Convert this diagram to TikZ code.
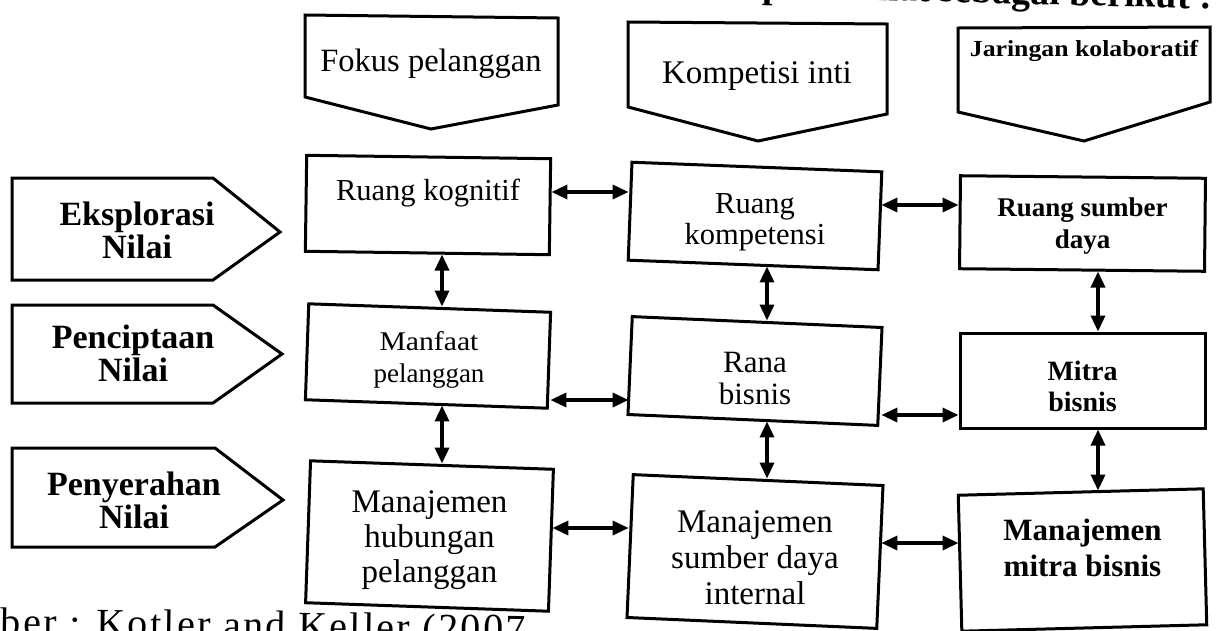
\documentclass[tikz,border=0pt]{standalone}
\usepackage{fontspec}
\usepackage{graphicx}
\setmainfont{Liberation Serif}
\usetikzlibrary{arrows.meta}
\newcommand{\myfs}[2]{\fontsize{#1}{#2}\selectfont}
\newcommand{\hstr}[2]{\scalebox{#1}[1]{#2}}
\tikzset{
  box/.style={draw, line width=3pt, inner sep=0pt},
  shp/.style={draw, line width=3pt, line join=miter},
  lbl/.style={align=center, inner sep=0pt},
  side/.style={lbl, font=\bfseries\myfs{34}{33}},
  dbl/.style={{Triangle[length=16pt,width=14pt]}-{Triangle[length=16pt,width=14pt]}, line width=3.4pt},
}
\begin{document}
\begin{tikzpicture}[x=1pt,y=-1pt]
\useasboundingbox (0,0) rectangle (1217,630);
\clip (0,0) rectangle (1217,630);
% cut page texts
\node[anchor=base east, inner sep=0pt, rotate=-1.5, font=\bfseries\myfs{38}{40}] (toptext) at (1212,9) {dapat dilihat sebagai berikut :};
\node[anchor=base west, inner sep=0pt, rotate=-0.8, font=\myfs{40}{42}\addfontfeature{LetterSpace=6}] (bottext) at (-80,634) {Sumber : Kotler and Keller (2007};
% top pentagons
\draw[shp] (305,15) -- (558,18) -- (558,105) -- (431,129) -- (305,97) -- cycle;
\node[lbl, font=\myfs{32.5}{34}] (fokus) at (431,64) {Fokus pelanggan};
\draw[shp] (628,22) -- (887,24) -- (887,114) -- (758,141) -- (628,107) -- cycle;
\node[lbl, font=\myfs{33}{34}] (kompi) at (757,76) {Kompetisi inti};
\draw[shp] (958,28) -- (1210,27) -- (1210,102) -- (1084,141) -- (958,112) -- cycle;
\node[lbl, font=\bfseries\myfs{23}{26}] (jarkol) at (1084,51) {\hstr{1.12}{Jaringan kolaboratif}};
% left pentagons
\draw[shp] (12,178) -- (213,178) -- (280,232) -- (213,280) -- (12,280) -- cycle;
\node[side] (eks) at (137,230) {Eksplorasi\\Nilai};
\draw[shp] (12,305) -- (213,305) -- (282,354) -- (213,403) -- (12,403) -- cycle;
\node[side] (pen) at (133,353) {Penciptaan\\Nilai};
\draw[shp] (12,448) -- (215,448) -- (283,500) -- (215,547) -- (12,547) -- cycle;
\node[side] (pny) at (134,500) {Penyerahan\\Nilai};
% boxes row 1
\node[box, minimum width=244pt, minimum height=96pt, rotate=-0.8] (kog) at (428,205) {};
\node[lbl, font=\myfs{30.5}{31}, anchor=base] (kogt) at (428,200) {Ruang kognitif};
\node[box, minimum width=250pt, minimum height=98pt, rotate=-2.2] (kom) at (755,216) {};
\node[lbl, font=\myfs{30.5}{31}] (komt) at (755,222) {Ruang\\kompetensi};
\node[box, minimum width=245pt, minimum height=93pt, rotate=-0.6] (sum) at (1082.5,223.5) {};
\node[lbl, font=\bfseries\myfs{27}{32}] (sumt) at (1082.5,226) {Ruang sumber\\daya};
% row 2
\node[box, minimum width=242pt, minimum height=96pt, rotate=-2] (man) at (428,356) {};
\node[lbl, font=\myfs{27}{32}] (mant) at (429,360) {\hstr{1.1}{Manfaat}\\pelanggan};
\node[box, minimum width=250pt, minimum height=98pt, rotate=-2.5] (ran) at (755,371) {};
\node[lbl, font=\myfs{31}{32}] (rant) at (755,378) {Rana\\bisnis};
\node[box, minimum width=245pt, minimum height=95pt] (mit) at (1082.5,380.5) {};
\node[lbl, font=\bfseries\myfs{28}{31}] (mitt) at (1082.5,386) {Mitra\\bisnis};
% row 3
\node[box, minimum width=243pt, minimum height=142pt, rotate=-2] (hub) at (429.5,536) {};
\node[lbl, font=\myfs{33}{35}] (hubt) at (429.5,540) {Manajemen\\hubungan\\pelanggan};
\node[box, minimum width=250pt, minimum height=143pt, rotate=-2.5] (sdi) at (755,551.5) {};
\node[lbl, font=\myfs{33}{36}] (sdit) at (755,558) {Manajemen\\sumber daya\\internal};
\node[box, minimum width=245pt, minimum height=136pt, rotate=1.5] (mmb) at (1082.5,560) {};
\node[lbl, font=\bfseries\myfs{31}{36}] (mmbt) at (1082.5,548) {Manajemen\\mitra bisnis};
% horizontal arrows
\draw[dbl] (kog.east |- 0,192) -- (kom.west |- 0,192);
\draw[dbl] (kom.east |- 0,205) -- (sum.west |- 0,205);
\draw[dbl] (man.east |- 0,400) -- (ran.west |- 0,400);
\draw[dbl] (ran.east |- 0,415) -- (mit.west |- 0,415);
\draw[dbl] (hub.east |- 0,528) -- (sdi.west |- 0,528);
\draw[dbl] (sdi.east |- 0,543) -- (mmb.west |- 0,543);
% vertical arrows
\draw[dbl] (kog.south -| 442,0) -- (man.north -| 442,0);
\draw[dbl] (man.south -| 442,0) -- (hub.north -| 442,0);
\draw[dbl] (kom.south -| 767,0) -- (ran.north -| 767,0);
\draw[dbl] (ran.south -| 767,0) -- (sdi.north -| 767,0);
\draw[dbl] (sum.south -| 1098,0) -- (mit.north -| 1098,0);
\draw[dbl] (mit.south -| 1098,0) -- (mmb.north -| 1098,0);
\end{tikzpicture}
\end{document}
